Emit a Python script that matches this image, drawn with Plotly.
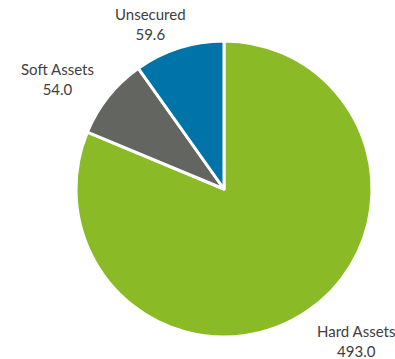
import plotly.graph_objects as go

labels = ["Hard Assets", "Soft Assets", "Unsecured"]
values = [493.0, 54.0, 59.6]
colors = ["#8ABB26", "#636561", "#0073A8"]

# label anchor positions (paper coords)
label_x = [0.946, -0.061, 0.253]
label_y = [-0.0135, 0.872, 1.057]

fig = go.Figure(go.Pie(
    labels=labels, values=values, sort=False, direction="clockwise", rotation=0,
    marker=dict(colors=colors, line=dict(color="white", width=3)),
    textinfo="none", hoverinfo="label+value", showlegend=False,
    domain=dict(x=[0, 1], y=[0, 1]),
))

for lab, val, x, y in zip(labels, values, label_x, label_y):
    fig.add_annotation(x=x, y=y, xref="paper", yref="paper", showarrow=False,
                       xanchor="center", yanchor="middle",
                       text=f"{lab}<br>{val:.1f}", align="center",
                       font=dict(family="Lato", size=15, color="#404040"))

fig.update_layout(width=395, height=359, margin=dict(l=76, r=23, t=41, b=22),
                  paper_bgcolor="white", plot_bgcolor="white")
fig.write_html("out.html")
